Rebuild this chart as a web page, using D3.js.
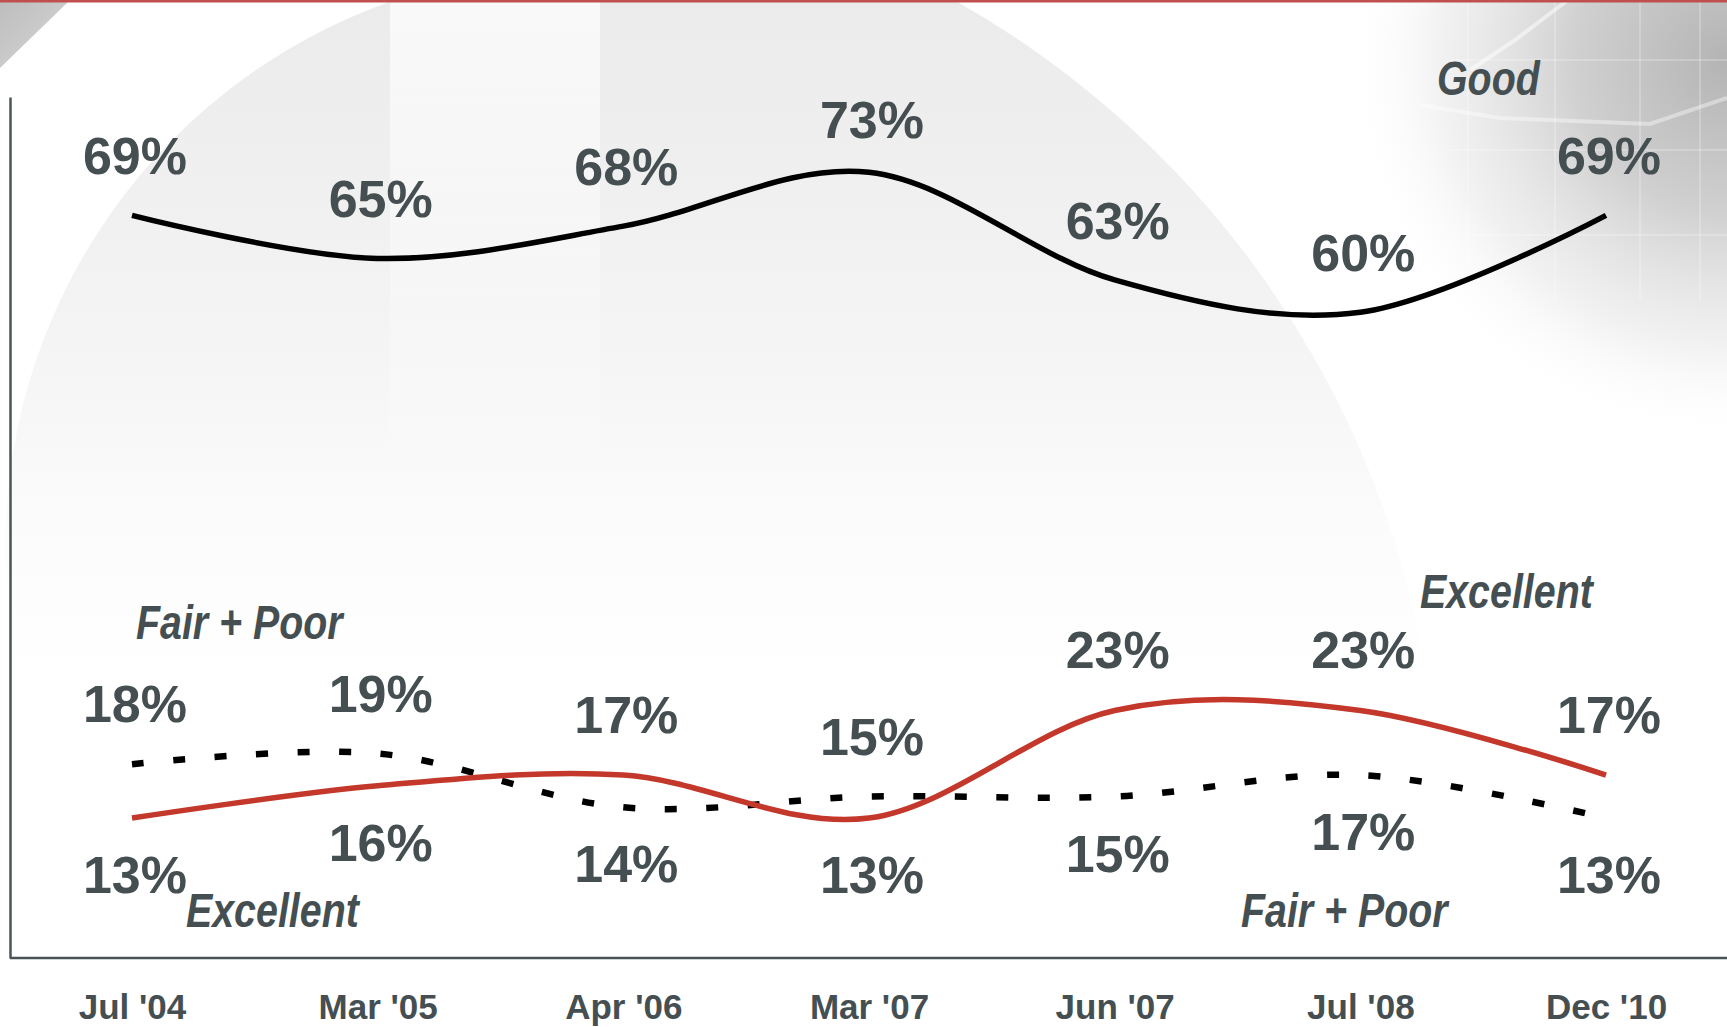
<!DOCTYPE html>
<html>
<head>
<meta charset="utf-8">
<script src="https://cdn.jsdelivr.net/npm/d3@7"></script>
<style>
  body { margin: 0; background: #fff; }
  svg { display: block; }
  text { font-family: "Liberation Sans", Arial, sans-serif; font-weight: bold; fill: #454f52; }
</style>
</head>
<body>
<svg id="chart" width="1727" height="1027"></svg>
<script>
// survey waves
var categories = ["Jul '04", "Mar '05", "Apr '06", "Mar '07", "Jun '07", "Jul '08", "Dec '10"];
// percent of respondents per rating
var good      = [69, 65, 68, 73, 63, 60, 69];
var excellent = [13, 16, 17, 13, 23, 23, 17];
var fairPoor  = [18, 19, 14, 15, 15, 17, 13];

var svg = d3.select("#chart"),
    width = 1727,
    height = 1027;

var x = d3.scalePoint().domain(categories).range([132, 1606]),
    y = d3.scaleLinear().domain([0, 80]).range([958, 97]);

var textColor = "#454f52",
    axisColor = "#4a5457";

// ---- background decoration ----
var defs = svg.append("defs");

var fade = defs.append("linearGradient")
    .attr("id", "fade")
    .attr("gradientUnits", "userSpaceOnUse")
    .attr("x1", 0).attr("y1", 0).attr("x2", 0).attr("y2", 680);
fade.append("stop").attr("offset", 0).attr("stop-color", "#ebebeb");
fade.append("stop").attr("offset", 0.45).attr("stop-color", "#f3f3f3");
fade.append("stop").attr("offset", 0.8).attr("stop-color", "#fcfcfc");
fade.append("stop").attr("offset", 1).attr("stop-color", "#ffffff");

var band = defs.append("linearGradient")
    .attr("id", "band")
    .attr("x1", 0).attr("y1", 0).attr("x2", 0).attr("y2", 1);
band.append("stop").attr("offset", 0).attr("stop-color", "#fff").attr("stop-opacity", 0.7);
band.append("stop").attr("offset", 1).attr("stop-color", "#fff").attr("stop-opacity", 0);

var corner = defs.append("radialGradient")
    .attr("id", "corner")
    .attr("gradientUnits", "userSpaceOnUse")
    .attr("cx", 1727).attr("cy", 60).attr("r", 380);
corner.append("stop").attr("offset", 0).attr("stop-color", "#b4b4b4");
corner.append("stop").attr("offset", 0.4).attr("stop-color", "#d0d0d0");
corner.append("stop").attr("offset", 0.75).attr("stop-color", "#e8e8e8").attr("stop-opacity", 0.6);
corner.append("stop").attr("offset", 1).attr("stop-color", "#ffffff").attr("stop-opacity", 0);

var wedge = defs.append("linearGradient")
    .attr("id", "wedge")
    .attr("x1", 0).attr("y1", 0).attr("x2", 1).attr("y2", 1);
wedge.append("stop").attr("offset", 0).attr("stop-color", "#bdbdbd");
wedge.append("stop").attr("offset", 1).attr("stop-color", "#d8d8d8");

var bg = svg.append("g").attr("class", "background");

bg.append("rect").attr("width", width).attr("height", height).attr("fill", "#fff");

bg.append("path")
    .attr("d", "M395,0 A577,577 0 0 0 8,600 L8,700 L1420,700 L1420,640 A950,950 0 0 0 954,0 Z")
    .attr("fill", "url(#fade)");

bg.append("rect")
    .attr("x", 390).attr("y", 0).attr("width", 210).attr("height", 520)
    .attr("fill", "url(#band)");

bg.append("rect")
    .attr("x", 1250).attr("y", 0).attr("width", 477).attr("height", 480)
    .attr("fill", "url(#corner)");

// faint grid of the photo in the corner
var grid = bg.append("g").attr("stroke", "#fff").attr("stroke-opacity", 0.3).attr("stroke-width", 1.5);
[1468, 1555, 1640, 1700].forEach(function(gx) {
    grid.append("line").attr("x1", gx).attr("x2", gx).attr("y1", 0).attr("y2", 300);
});
[60, 150, 235].forEach(function(gy) {
    grid.append("line").attr("x1", 1450).attr("x2", width).attr("y1", gy).attr("y2", gy);
});
bg.append("polyline")
    .attr("points", "1470,70 1515,40 1568,0")
    .attr("fill", "none").attr("stroke", "#fff").attr("stroke-opacity", 0.5).attr("stroke-width", 4);
bg.append("polyline")
    .attr("points", "1420,105 1500,118 1650,124 1727,98")
    .attr("fill", "none").attr("stroke", "#fff").attr("stroke-opacity", 0.4).attr("stroke-width", 4);

bg.append("path").attr("d", "M0,2 L68,2 L0,68 Z").attr("fill", "url(#wedge)");
bg.append("rect").attr("x", 0).attr("y", 0).attr("width", width).attr("height", 2.5).attr("fill", "#c0504d");

// ---- axes ----
var yAxis = d3.axisLeft(y).tickValues([]).tickSizeOuter(0);
svg.append("g")
    .attr("transform", "translate(10,0)")
    .call(yAxis)
    .select(".domain")
    .attr("stroke", axisColor)
    .attr("stroke-width", 2.5);

svg.append("line")
    .attr("x1", 10).attr("x2", width)
    .attr("y1", y(0)).attr("y2", y(0))
    .attr("stroke", axisColor)
    .attr("stroke-width", 2.5);

var xAxis = d3.axisBottom(x).tickSize(0).tickPadding(0);
var gx = svg.append("g")
    .attr("transform", "translate(0," + y(0) + ")")
    .call(xAxis);
gx.select(".domain").remove();
gx.attr("font-size", 35)
    .attr("font-family", "'Liberation Sans', Arial, sans-serif")
    .attr("color", textColor);
gx.selectAll("text").attr("y", 61).attr("dy", 0);

// ---- lines ----
var line = d3.line()
    .curve(d3.curveCatmullRom.alpha(0))
    .x(function(d, i) { return x(categories[i]); })
    .y(function(d) { return y(d); });

svg.append("path")
    .datum(good)
    .attr("fill", "none")
    .attr("stroke", "#000")
    .attr("stroke-width", 5.5)
    .attr("d", line);

svg.append("path")
    .datum(fairPoor)
    .attr("fill", "none")
    .attr("stroke", "#000")
    .attr("stroke-width", 6.5)
    .attr("stroke-dasharray", "12,29.5")
    .attr("d", line);

svg.append("path")
    .datum(excellent)
    .attr("fill", "none")
    .attr("stroke", "#c3382b")
    .attr("stroke-width", 5.5)
    .attr("d", line);

// ---- value labels ----
function pct(d) { return d + "%"; }
var labelTop = y(80) + 41;

svg.append("g").selectAll("text")
    .data(good)
    .join("text")
    .attr("x", function(d, i) { return x(categories[i]) + 3; })
    .attr("y", function(d) { return Math.max(y(d) - 41, labelTop); })
    .attr("text-anchor", "middle")
    .attr("font-size", 52)
    .text(pct);

var hi = excellent.map(function(d, i) { return Math.max(d, fairPoor[i]); }),
    lo = excellent.map(function(d, i) { return Math.min(d, fairPoor[i]); });

svg.append("g").selectAll("text")
    .data(hi)
    .join("text")
    .attr("x", function(d, i) { return x(categories[i]) + 3; })
    .attr("y", function(d) { return y(d) - 42; })
    .attr("text-anchor", "middle")
    .attr("font-size", 52)
    .text(pct);

svg.append("g").selectAll("text")
    .data(lo)
    .join("text")
    .attr("x", function(d, i) { return x(categories[i]) + 3; })
    .attr("y", function(d) { return y(d) + 75; })
    .attr("text-anchor", "middle")
    .attr("font-size", 52)
    .text(pct);

// ---- series names (narrow bold italic) ----
function seriesName(txt, px, py) {
    svg.append("text")
        .attr("transform", "translate(" + px + "," + py + ") scale(0.82,1)")
        .attr("font-size", 48)
        .attr("font-style", "italic")
        .text(txt);
}
seriesName("Good", 1437, 95);
seriesName("Fair + Poor", 136, 639);
seriesName("Excellent", 186, 927);
seriesName("Excellent", 1420, 608);
seriesName("Fair + Poor", 1241, 927);
</script>
</body>
</html>
